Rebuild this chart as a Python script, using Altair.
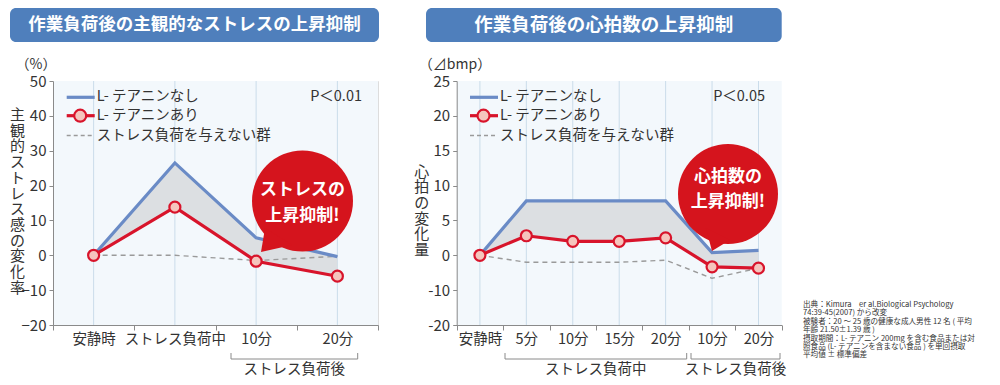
import altair as alt
import pandas as pd

# ---------------- data ----------------
series_names = ["L- テアニンなし", "L- テアニンあり", "ストレス負荷を与えない群"]

left_cats = ["安静時", "ストレス負荷中", "10分", "20分"]
left_none = [0, 26.5, 5.0, -0.4]
left_with = [0, 13.8, -1.7, -6.0]
left_ctrl = [0, 0, -1.5, -0.3]
left_ticks = [-20, -10, 0, 10, 20, 30, 40, 50]

right_cats = ["安静時", "5分", "10分", "15分", "20分", "後10分", "後20分"]
right_none = [0, 7.8, 7.8, 7.8, 7.8, 0.4, 0.7]
right_with = [0, 2.8, 2.0, 2.0, 2.5, -3.3, -3.7]
right_ctrl = [0, -2.0, -2.0, -2.0, -1.4, -6.6, -3.7]
right_ticks = [-20, -10, 0, 5, 10, 15, 20, 25]

left_title = "作業負荷後の主観的なストレスの上昇抑制"
right_title = "作業負荷後の心拍数の上昇抑制"
left_unit = "（%）"
right_unit = "（⊿bmp）"
left_ytitle = "主観的ストレス感の変化率"
right_ytitle = "心拍の変化量"
left_p = "P＜0.01"
right_p = "P＜0.05"
left_callout = ["ストレスの", "上昇抑制!"]
right_callout = ["心拍数の", "上昇抑制!"]
group_after = "ストレス負荷後"
group_during = "ストレス負荷中"
footnote = [
    "出典：Kimura　er al.Biological Psychology",
    "74:39-45(2007) から改変",
    "被験者：20 ～ 25 歳の健康な成人男性 12 名 ( 平均",
    "年齢 21.50±1.39 歳 )",
    "摂取期間：L- テアニン 200mg を含む食品または対",
    "照食品 (L- テアニンを含まない食品 ) を単回摂取",
    "平均値 ± 標準偏差",
]

# ---------------- styles ----------------
BLUE = "#6a8bc6"
RED = "#d8142b"
PINK = "#f5c5bd"
AREA = "#dcdfe2"
BG = "#f3f8fc"
GRID = "#cadcea"
AXIS = "#8a8a8a"
TXT = "#333333"
BAR = "#4f7fbc"
CALL = "#d5141d"
DASH = "#9a9a9a"
FONT = "Noto Sans CJK JP"

W = 325
H = 244
RX0 = 403.7  # right panel x origin (view coords)

left_df = pd.DataFrame({"cat": left_cats, "none": left_none, "with": left_with, "ctrl": left_ctrl})
right_df = pd.DataFrame({"cat": right_cats, "none": right_none, "with": right_with, "ctrl": right_ctrl})
one = pd.DataFrame({"k": [0]})


def txt(s, x, y, size=14.5, color=TXT, align="left", weight="normal", baseline="middle", lh=None):
    props = dict(text=s, fontSize=size, color=color, align=align, fontWeight=weight,
                 baseline=baseline, font=FONT)
    if lh is not None:
        props["lineHeight"] = lh
    return alt.Chart(one).mark_text(**props).encode(x=alt.value(x), y=alt.value(y))


def rule(x1, x2, y1, y2, color=AXIS, w=1.0, dash=None):
    props = dict(color=color, strokeWidth=w)
    if dash is not None:
        props["strokeDash"] = dash
    return alt.Chart(one).mark_rule(**props).encode(
        x=alt.value(x1), x2=alt.value(x2), y=alt.value(y1), y2=alt.value(y2))


def rect(x1, x2, y1, y2, color, radius=0):
    return alt.Chart(one).mark_rect(color=color, cornerRadius=radius).encode(
        x=alt.value(x1), x2=alt.value(x2), y=alt.value(y1), y2=alt.value(y2))


def sym(x, y, size, shape, color):
    return alt.Chart(one).mark_point(shape=shape, filled=True, color=color, opacity=1,
                                     size=size, strokeWidth=0).encode(
        x=alt.value(x), y=alt.value(y))


def axis_common(**kw):
    base = dict(domainColor=AXIS, tickColor=AXIS, labelColor=TXT, labelFontSize=15,
                labelFont=FONT, grid=False, title=None, zindex=1, domainWidth=1,
                tickWidth=1)
    base.update(kw)
    return alt.Axis(**base)


# ---------------- left panel ----------------
X_L = alt.X("cat:N", sort=left_cats, title=None,
            scale=alt.Scale(type="band", domain=left_cats, range=[0, W],
                            paddingInner=0, paddingOuter=0),
            axis=axis_common(orient="bottom", tickBand="extent", tickSize=5,
                             labelPadding=2, labelAngle=0, labelOverlap=False,
                             labelFontSize=14.5,
                             labelExpr="isValid(datum.value) ? datum.value : ''"))


def yL(f):
    return alt.Y(f"{f}:Q", title=None,
                 scale=alt.Scale(domain=[-20, 50], nice=False, zero=False),
                 axis=axis_common(orient="left", values=left_ticks, tickSize=4, labelPadding=3))


baseL = alt.Chart(left_df)
left_layer = alt.layer(
    baseL.mark_rule(color=GRID, strokeWidth=1).encode(x=X_L, y=alt.value(0), y2=alt.value(H)),
    baseL.mark_area(color=AREA, opacity=1).encode(x=X_L, y=yL("none"), y2=alt.Y2("with:Q")),
    baseL.mark_line(color=DASH, strokeWidth=1.4, strokeDash=[5, 4]).encode(x=X_L, y=yL("ctrl")),
    baseL.mark_line(color=BLUE, strokeWidth=3.2).encode(x=X_L, y=yL("none")),
    baseL.mark_line(color=RED, strokeWidth=3.2).encode(x=X_L, y=yL("with")),
    baseL.mark_point(shape="circle", filled=True, fill=PINK, stroke=RED, strokeWidth=2.2,
                     opacity=1, size=121).encode(x=X_L, y=yL("with")),
)

# ---------------- right panel ----------------
X_R = alt.X("cat:N", sort=right_cats, title=None,
            scale=alt.Scale(type="band", domain=right_cats, range=[RX0, RX0 + W],
                            paddingInner=0, paddingOuter=0),
            axis=axis_common(orient="bottom", tickBand="extent", tickSize=5,
                             labelPadding=2, labelAngle=0, labelOverlap=False,
                             labelFontSize=14.5,
                             labelExpr="isValid(datum.value) ? replace(datum.value, '後', '') : ''"))

right_tick_pos = [t if t >= 0 else t / 2 for t in right_ticks]


def yR(f):
    return alt.Y(f"{f}:Q", title=None,
                 scale=alt.Scale(domain=[-10, 25], nice=False, zero=False),
                 axis=axis_common(orient="left", values=right_tick_pos, tickSize=4,
                                  labelPadding=3, offset=-RX0,
                                  labelExpr="datum.value < 0 ? datum.value * 2 : datum.value"))


baseR = alt.Chart(right_df).transform_calculate(
    yn="datum.none >= 0 ? datum.none : datum.none / 2",
    yw="datum.with >= 0 ? datum.with : datum.with / 2",
    yc="datum.ctrl >= 0 ? datum.ctrl : datum.ctrl / 2",
)
right_layer = alt.layer(
    baseR.mark_rule(color=GRID, strokeWidth=1).encode(x=X_R, y=alt.value(0), y2=alt.value(H)),
    baseR.mark_area(color=AREA, opacity=1).encode(x=X_R, y=yR("yn"), y2=alt.Y2("yw:Q")),
    baseR.mark_line(color=DASH, strokeWidth=1.4, strokeDash=[5, 4]).encode(x=X_R, y=yR("yc")),
    baseR.mark_line(color=BLUE, strokeWidth=3.2).encode(x=X_R, y=yR("yn")),
    baseR.mark_line(color=RED, strokeWidth=3.2).encode(x=X_R, y=yR("yw")),
    baseR.mark_point(shape="circle", filled=True, fill=PINK, stroke=RED, strokeWidth=2.2,
                     opacity=1, size=121).encode(x=X_R, y=yR("yw")),
)


# ---------------- decorations ----------------
def legend(x0, p_text, p_x):
    return [
        rule(x0, x0 + 28, 16.3, 16.3, BLUE, 3.2),
        txt(series_names[0], x0 + 30, 16.3),
        rule(x0, x0 + 28, 34.7, 34.7, RED, 3.2),
        alt.Chart(one).mark_point(shape="circle", filled=True, fill=PINK, stroke=RED,
                                  strokeWidth=2.2, opacity=1, size=144).encode(
            x=alt.value(x0 + 13.5), y=alt.value(34.7)),
        txt(series_names[1], x0 + 30, 34.7),
        rule(x0, x0 + 28, 54.5, 54.5, DASH, 1.4, [4, 3]),
        txt(series_names[2], x0 + 30, 54.5),
        txt(p_text, p_x, 16.3, align="right"),
    ]


def bracket(x1, x2, label):
    return [
        rule(x1, x2, 278, 278),
        rule(x1, x1, 272, 278),
        rule(x2, x2, 272, 278),
        txt(label, (x1 + x2) / 2, 288.5, size=14.5, align="center"),
    ]


deco_back = [
    rect(0, W, 0, H, BG),
    rect(RX0, RX0 + W, 0, H, BG),
]

deco_front = [
    # title bars
    rect(-43, 326, -73, -39, BAR, 6),
    txt(left_title, 141.5, -56, size=17.5, color="white", align="center", weight="bold"),
    rect(373, 728.7, -73, -39, BAR, 6),
    txt(right_title, 550.8, -56, size=18.5, color="white", align="center", weight="bold"),
    # units
    txt(left_unit, -17, -16, size=14, align="center"),
    txt(right_unit, 402, -16, size=14, align="center"),
    # vertical y titles (one character per line)
    txt(list(left_ytitle), -35.5, 34, size=15, align="center", lh=15.7),
    txt(list(right_ytitle), 368.7, 90.7, size=15, align="center", lh=15.7),
    # callouts
    sym(249.5, 120, 10201, "circle", CALL),
    sym(223, 159, 900, "M -0.73 -0.8 L 1.07 0.33 L -1 0.8 Z", CALL),
    txt(left_callout, 249.5, 109, size=17, color="white", align="center", weight="bold", lh=26),
    sym(675, 113, 10000, "circle", CALL),
    sym(663, 159, 900, "M -0.67 -0.8 L 0.93 0 L -0.27 0.73 Z", CALL),
    txt(right_callout, 675, 95.7, size=17, color="white", align="center", weight="bold", lh=25),
    # footnote
    txt(footnote, 750, 220, size=7.6, baseline="top", lh=8.4),
]
deco_front += legend(13.7, left_p, 309)
deco_front += legend(RX0 + 13.3, right_p, 712)
deco_front += bracket(178, 304.7, group_after)
deco_front += bracket(452, 633.7, group_during)
deco_front += bracket(638, 727, group_after)

chart = alt.layer(
    *deco_back, left_layer, right_layer, *deco_front
).resolve_scale(
    x="independent", y="independent"
).properties(
    width=W, height=H,
    padding={"left": 45, "top": 73, "right": 614, "bottom": 52},
    autosize=alt.AutoSizeParams(type="none"),
    background="white",
).configure_view(stroke=None).configure(font=FONT)

chart.save("out.html", embed_options={"renderer": "svg", "actions": False})
